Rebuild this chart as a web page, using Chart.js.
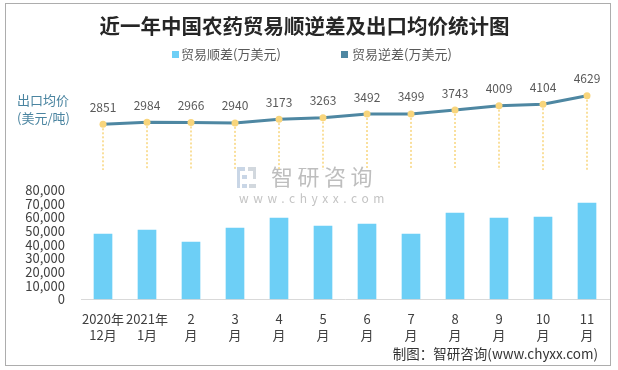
<!DOCTYPE html>
<html>
<head>
<meta charset="utf-8">
<script src="https://cdn.jsdelivr.net/npm/chart.js@4/dist/chart.umd.min.js"></script>
<style>
html,body{margin:0;padding:0;background:#fff;}
#wrap{position:relative;width:618px;height:370px;}
#c{position:absolute;left:0;top:0;}
#frame{position:absolute;left:5px;top:3px;width:606px;height:363px;box-sizing:border-box;border:1px solid #ADADAD;pointer-events:none;}
</style>
</head>
<body>
<div id="wrap"><canvas id="c" width="618" height="370"></canvas><div id="frame"></div></div>
<script>
// ---- data ----
const categories = [['2020年','12月'],['2021年','1月'],['2','月'],['3','月'],['4','月'],['5','月'],['6','月'],['7','月'],['8','月'],['9','月'],['10','月'],['11','月']];
const surplus = [47800,50700,41900,52200,59500,53700,55100,47800,63200,59500,60200,70500];
const exportPrice = [2851,2984,2966,2940,3173,3263,3492,3499,3743,4009,4104,4629];
const barTicks = [0,10000,20000,30000,40000,50000,60000,70000,80000];
const seriesNames = ['贸易顺差(万美元)','贸易逆差(万美元)'];
const titleText = '近一年中国农药贸易顺逆差及出口均价统计图';
const priceAxisTitle = ['出口均价','(美元/吨)'];
const sourceText = '制图：智研咨询(www.chyxx.com)';
const watermarkText = '智研咨询';
const watermarkUrl = 'www.chyxx.com';
const dropLineTo = 0;

const FONT = '"Noto Sans CJK SC","Noto Sans",sans-serif';
const BAR_COLOR = '#6DCFF6';
const LINE_COLOR = '#4E87A2';
const POINT_COLOR = '#F8D57C';

const extras = {
  id: 'extras',
  beforeDatasetsDraw(chart) {
    const ctx = chart.ctx;
    // watermark
    ctx.save();
    ctx.fillStyle = '#C9D6E6';
    ctx.fillRect(237, 167, 8, 4);
    ctx.fillRect(237, 167, 3, 21);
    ctx.fillRect(242, 175, 5, 4);
    ctx.fillRect(242, 184, 5, 4);
    ctx.fillStyle = '#D2D8DE';
    ctx.fillRect(248, 167, 8, 4);
    ctx.fillRect(253, 167, 3, 12);
    ctx.fillRect(249, 184, 7, 4);
    ctx.fillStyle = '#BEBEBE';
    ctx.font = '22px ' + FONT;
    ctx.textBaseline = 'middle';
    ctx.textAlign = 'left';
    ctx.letterSpacing = '4.5px';
    ctx.fillText(watermarkText, 271, 177);
    ctx.fillStyle = '#C4C4C4';
    ctx.font = '12px ' + FONT;
    ctx.letterSpacing = '4.6px';
    ctx.fillText(watermarkUrl, 239, 198);
    ctx.letterSpacing = '0px';
    ctx.restore();
    // drop lines
    const meta = chart.getDatasetMeta(1);
    const yEnd = chart.scales.y2.getPixelForValue(dropLineTo);
    ctx.save();
    ctx.strokeStyle = POINT_COLOR;
    ctx.lineWidth = 1.5;
    ctx.setLineDash([2, 2]);
    meta.data.forEach(pt => {
      ctx.beginPath();
      ctx.moveTo(pt.x, pt.y);
      ctx.lineTo(pt.x, yEnd);
      ctx.stroke();
    });
    ctx.restore();
  },
  afterDatasetsDraw(chart) {
    const ctx = chart.ctx;
    const meta = chart.getDatasetMeta(1);
    ctx.save();
    ctx.fillStyle = '#595959';
    ctx.font = '12px ' + FONT;
    ctx.textAlign = 'center';
    ctx.textBaseline = 'middle';
    meta.data.forEach((pt, i) => {
      ctx.fillText(String(exportPrice[i]), pt.x, pt.y - 17);
    });
    ctx.restore();
  },
  afterDraw(chart) {
    const ctx = chart.ctx;
    ctx.save();
    // legend
    ctx.font = '13px ' + FONT;
    ctx.textBaseline = 'middle';
    ctx.textAlign = 'left';
    const legend = [[172, 181, BAR_COLOR], [341, 352, LINE_COLOR]];
    legend.forEach((l, i) => {
      ctx.fillStyle = l[2];
      ctx.fillRect(l[0], 51, 7, 7);
      ctx.fillStyle = '#595959';
      ctx.fillText(seriesNames[i], l[1], 54.5);
    });
    // price axis title
    ctx.fillStyle = '#4A84A0';
    ctx.font = '13px ' + FONT;
    ctx.fillText(priceAxisTitle[0], 17, 100);
    ctx.fillText(priceAxisTitle[1], 17, 118);
    // source
    ctx.fillStyle = '#333333';
    ctx.font = '13.5px ' + FONT;
    ctx.textAlign = 'right';
    ctx.fillText(sourceText, 598, 354);
    ctx.restore();
  }
};

new Chart(document.getElementById('c'), {
  type: 'bar',
  data: {
    labels: categories,
    datasets: [
      {
        type: 'bar', label: seriesNames[0], data: surplus, yAxisID: 'y',
        backgroundColor: BAR_COLOR, barThickness: 18, order: 1
      },
      {
        type: 'line', label: seriesNames[1], data: exportPrice, yAxisID: 'y2',
        borderColor: LINE_COLOR, backgroundColor: LINE_COLOR, borderWidth: 3, tension: 0,
        pointRadius: 3.5, pointBackgroundColor: POINT_COLOR, pointBorderColor: POINT_COLOR,
        pointBorderWidth: 0, fill: false, order: 0
      }
    ]
  },
  options: {
    responsive: false,
    animation: false,
    devicePixelRatio: 1,
    layout: { padding: { left: 0, right: 9, top: 0, bottom: 15 } },
    plugins: {
      legend: { display: false },
      tooltip: { enabled: false },
      title: {
        display: true, text: titleText, color: '#262626',
        font: { family: FONT, size: 20.5, weight: 'bold', lineHeight: 1.2 },
        padding: { top: 13.5, bottom: 32 }
      }
    },
    scales: {
      x: {
        grid: { display: false, drawTicks: false },
        border: { display: true, color: '#D9D9D9', width: 1 },
        ticks: { color: '#404040', font: { family: FONT, size: 13, lineHeight: 1.3 }, padding: 11, maxRotation: 0, autoSkip: false }
      },
      y: {
        min: 0, max: 168000,
        afterBuildTicks: s => { s.ticks = barTicks.map(v => ({ value: v })); },
        afterFit: s => { s.width = 81; },
        grid: { display: false, drawTicks: false },
        border: { display: false },
        ticks: {
          color: '#404040', font: { family: FONT, size: 13 }, padding: 16,
          callback: v => v.toLocaleString('en-US')
        }
      },
      y2: {
        display: false, min: -8041, max: 6227
      }
    }
  },
  plugins: [extras]
});
</script>
</body>
</html>
